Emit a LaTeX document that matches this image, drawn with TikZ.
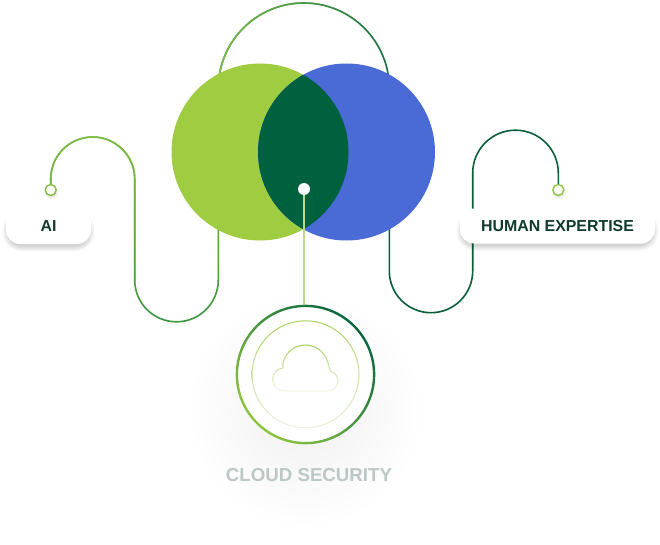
\documentclass[tikz,border=0pt]{standalone}
\usepackage{fontspec}
\setmainfont{Liberation Sans}
\usetikzlibrary{fadings}
\definecolor{vgreen}{HTML}{A0CC42}
\definecolor{vblue}{HTML}{4A6AD5}
\definecolor{vlens}{HTML}{00613E}
\definecolor{lineA}{HTML}{92C83E}
\definecolor{lineB}{HTML}{3B9640}
\definecolor{archL}{HTML}{7DBF45}
\definecolor{archR}{HTML}{176F3D}
\definecolor{rpath}{HTML}{0B5E3A}
\definecolor{labtext}{HTML}{0F3B2E}
\definecolor{cloudtext}{HTML}{BCC7C6}
\definecolor{ringLight}{HTML}{8DC63F}
\definecolor{ringDark}{HTML}{0A6640}
\definecolor{innerTop}{HTML}{A8D05C}
\definecolor{innerBot}{HTML}{EAF1E0}
\definecolor{connector}{HTML}{B8D98E}
\definecolor{cloudline}{HTML}{A5CF5A}
\tikzfading[name=fadeS, top color=transparent!0, bottom color=transparent!100]
\tikzfading[name=fadeE, left color=transparent!0, right color=transparent!100]
\tikzfading[name=fadeC, top color=transparent!0, bottom color=transparent!88]
\tikzset{
  labelbox/.style={rectangle, rounded corners=14pt, fill=white, minimum height=35pt,
    inner sep=0pt, text=labtext, font=\fontsize{15.9}{18}\selectfont\bfseries},
  enddot/.style={circle, minimum size=11pt, inner sep=0pt, fill=white, line width=1.4pt},
  pathline/.style={line width=1.6pt},
  shadowlayer/.style={fill=black, fill opacity=0.018, draw=none, inner sep=0pt},
}
% soft shadow behind a rounded box: #1 x, #2 y, #3 width, #4 height (in pt)
\newcommand{\boxshadow}[4]{%
  \foreach \i in {0,...,8}{%
    \node[shadowlayer, rectangle, rounded corners={14pt+0.7*\i pt},
      minimum width={#3pt-4pt+1.4*\i pt}, minimum height={#4pt-6pt+1.4*\i pt}] at (#1,#2+5) {};
  }}
\newcommand{\dotshadow}[2]{%
  \foreach \i in {0,...,4}{%
    \node[shadowlayer, circle, minimum size={9pt+1.2*\i pt}] at (#1+1,#2+2.5) {};
  }}
\begin{document}
\begin{tikzpicture}[x=1pt,y=-1pt]
\useasboundingbox (0,0) rectangle (660,545);
\fill[white] (0,0) rectangle (660,545);

% soft glow under the cloud badge
\shade[inner color=black!6, outer color=white] (305,410) circle (118);

% end dots
\dotshadow{50.7}{190}
\dotshadow{558.3}{190}
\node[enddot, draw=lineA!80!lineB] (aidot) at (50.7,190) {};
\node[enddot, draw=ringLight] (hedot) at (558.3,190) {};

% left winding path (vertical gradient)
\draw[pathline, lineB] (aidot.north) -- (50.7,179) arc[start angle=180,end angle=360,radius=42]
  -- (134.7,280) arc[start angle=180,end angle=0,radius=41.8] -- (218.3,88.5) coordinate (archL);
\draw[pathline, lineA, path fading=fadeS] (aidot.north) -- (50.7,179) arc[start angle=180,end angle=360,radius=42]
  -- (134.7,280) arc[start angle=180,end angle=0,radius=41.8] -- (218.3,88.5);

% top arch (horizontal gradient)
\draw[pathline, archR] (archL) arc[start angle=180,end angle=360,radius=85.5] coordinate (archR);
\draw[pathline, archL, path fading=fadeE] (archL) arc[start angle=180,end angle=360,radius=85.5];

% right winding path
\draw[pathline, rpath] (archR) -- (389.3,271) arc[start angle=180,end angle=0,radius=41.7]
  -- (472.7,173) arc[start angle=180,end angle=360,radius=42.8] -- (hedot.north);

% Venn circles
\fill[vgreen] (260,152) circle (88.5);
\fill[vblue] (346.5,152) circle (88.5);
\begin{scope}
  \clip (260,152) circle (88.5);
  \fill[vlens] (346.5,152) circle (88.5);
\end{scope}

% cloud badge
\node[circle, minimum size=139pt, inner sep=0pt] (ring) at (305.5,374.5) {};
\fill[white] (ring.center) circle (68.6);
\shade[even odd rule, top color=ringDark, bottom color=ringLight, shading angle=-45]
  (ring.center) circle (69.8) (ring.center) circle (67.4);
\shade[even odd rule, top color=innerTop, bottom color=innerBot]
  (305.5,374.3) circle (54) (305.5,374.3) circle (53);
\draw[cloudline, line width=1.1pt, line join=round, path fading=fadeC]
  (285,391) -- (328,391) arc[start angle=90,end angle=-75,radius=10]
  -- (327.9,363) arc[start angle=-12.6,end angle=-167.4,radius=23]
  -- (283,368) arc[start angle=-95,end angle=-270,radius=11.5] -- cycle;

% white dot and connector
\node[circle, fill=white, minimum size=12pt, inner sep=0pt] (dot) at (304,189) {};
\draw[connector, line width=1.2pt] (dot.south) -- (dot.south |- ring.north);

% labels
\boxshadow{48.5}{226.5}{85}{35}
\boxshadow{557.5}{226}{195}{35}
\node[labelbox, minimum width=85pt] (ai) at (48.5,226.5) {AI};
\node[labelbox, minimum width=195pt] (he) at (557.5,226) {HUMAN EXPERTISE};
\node[font=\fontsize{18.7}{22}\selectfont\bfseries, text=cloudtext, inner sep=0pt] (cs) at (309,475) {CLOUD SECURITY};
\end{tikzpicture}
\end{document}
